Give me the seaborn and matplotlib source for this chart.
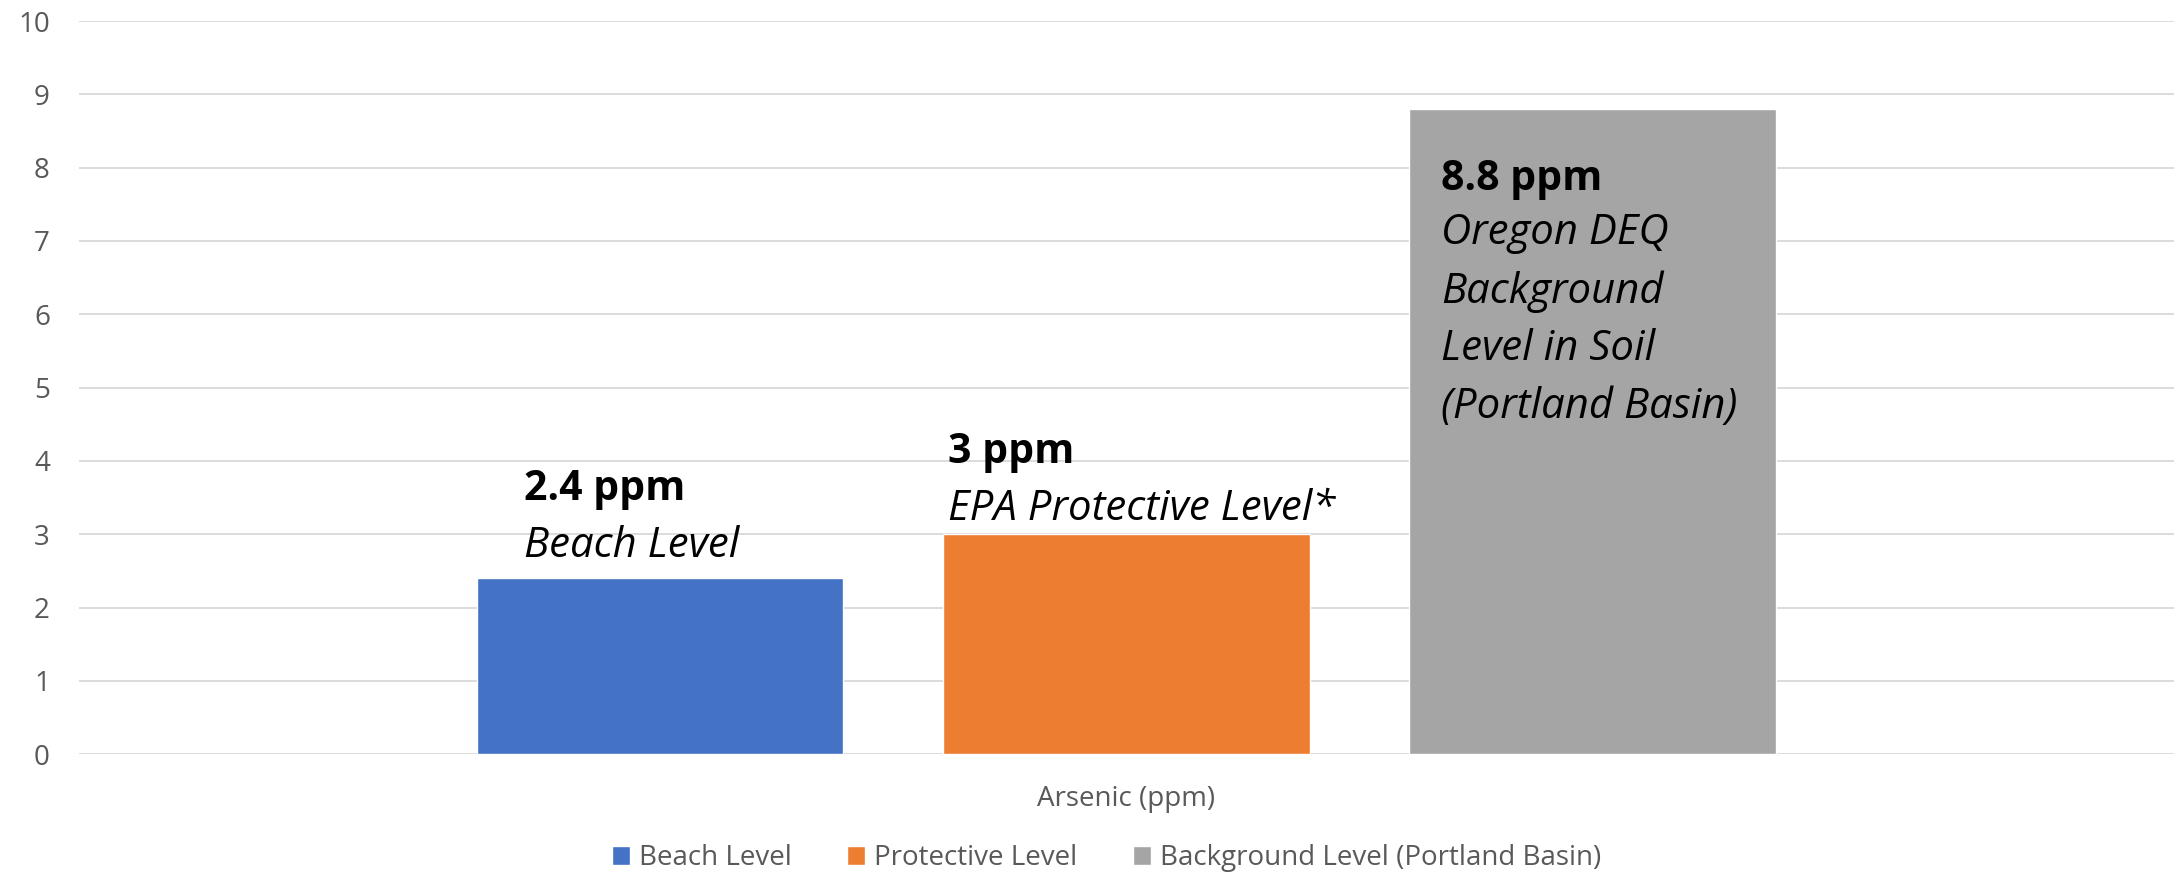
# %%
# importing libraries
import pandas as pd
import matplotlib.pyplot as plt
import seaborn as sns

# %%
# data
levels = ['Beach Level', 'Protective Level', 'Background Level (Portland Basin)']
values = [2.4, 3.0, 8.8]
value_labels = ['2.4 ppm', '3 ppm', '8.8 ppm']
descriptions = ['Beach Level', 'EPA Protective Level*',
                'Oregon DEQ\nBackground\nLevel in Soil\n(Portland Basin)']
category = 'Arsenic (ppm)'
colors = ['#4472C4', '#ED7D31', '#A5A5A5']

df = pd.DataFrame({'metric': [category] * len(levels), 'level': levels, 'value': values})

# %%
sns.set_theme(style='whitegrid')
plt.rcParams['font.family'] = ['Open Sans', 'DejaVu Sans']

fig = plt.figure(figsize=(21.78, 8.75), dpi=100)
ax = fig.add_axes([0.0363, 0.138, 0.9617, 0.838])

sns.barplot(data=df, x='metric', y='value', hue='level', hue_order=levels,
            palette=colors, width=0.668, gap=0.214, saturation=1, ax=ax)

ax.set_ylim(0, 10)
ax.set_xlim(-0.5, 0.5)
ax.set_yticks(range(0, 11))
ax.set_xlabel('')
ax.set_ylabel('')
ax.grid(axis='x', visible=False)
ax.grid(axis='y', color='#d9d9d9', linewidth=1.3)
for s in ax.spines.values():
    s.set_visible(False)
ax.tick_params(axis='y', length=0, pad=21, labelsize=20, labelcolor='#595959')
ax.tick_params(axis='x', length=0, pad=22, labelsize=20, labelcolor='#595959')

# data labels: bold value + italic description (offsets in points from bar top-left)
# italic block is aligned on the baseline of its last line
offsets = [(34, 56, 15), (3.6, 51, 10), (23, -58, -222.5)]
bars = [p for p in ax.patches if p.get_height() > 0]
bars = sorted(bars, key=lambda p: p.get_x())
for bar, vl, desc, (dx, dy_b, dy_i) in zip(bars, value_labels, descriptions, offsets):
    xy = (bar.get_x(), bar.get_height())
    ax.annotate(vl, xy=xy, xytext=(dx, dy_b), textcoords='offset points',
                ha='left', va='baseline', fontsize=29.5, fontweight='bold', color='black')
    ax.annotate(desc, xy=xy, xytext=(dx, dy_i), textcoords='offset points',
                ha='left', va='baseline', fontsize=30.2, fontstyle='italic',
                color='black', linespacing=1.49)

# legend under the chart
handles, labels = ax.get_legend_handles_labels()
ax.get_legend().remove()
fig.legend(handles, labels, loc='center', bbox_to_anchor=(0.508, 0.0194), ncol=3,
           frameon=False, fontsize=20, labelcolor='#595959',
           handlelength=0.65, handleheight=0.65, handletextpad=0.32, columnspacing=2.0,
           borderaxespad=0)

plt.savefig('out.png', dpi=100)
